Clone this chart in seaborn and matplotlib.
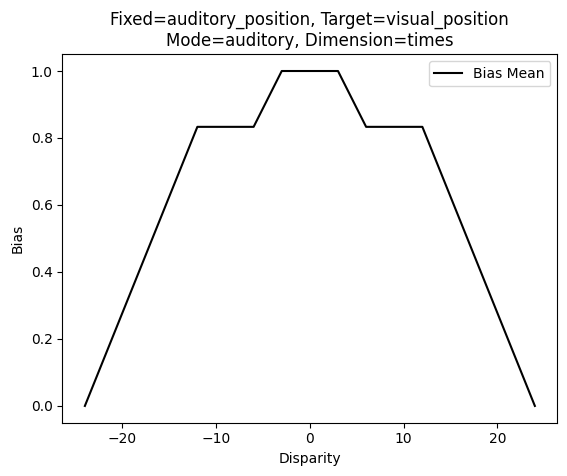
import matplotlib
matplotlib.use("Agg")
import matplotlib.pyplot as plt
import seaborn as sns
import pandas as pd

disparity = [-24, -12, -6, -3, 3, 6, 12, 24]
bias_mean = [0.0, 0.8333, 0.8333, 1.0, 1.0, 0.8333, 0.8333, 0.0]

df = pd.DataFrame({"Disparity": disparity, "Bias": bias_mean})

fig = plt.figure(figsize=(5.67, 4.76), dpi=100)
ax = fig.add_subplot(1, 1, 1)
sns.lineplot(data=df, x="Disparity", y="Bias", color="black", label="Bias Mean", ax=ax)
ax.set_title("Fixed=auditory_position, Target=visual_position\nMode=auditory, Dimension=times")
ax.set_xlabel("Disparity")
ax.set_ylabel("Bias")
ax.legend(loc="upper right")
fig.subplots_adjust(left=0.110, right=0.983, top=0.886, bottom=0.112)
fig.savefig("out.png", dpi=100)
